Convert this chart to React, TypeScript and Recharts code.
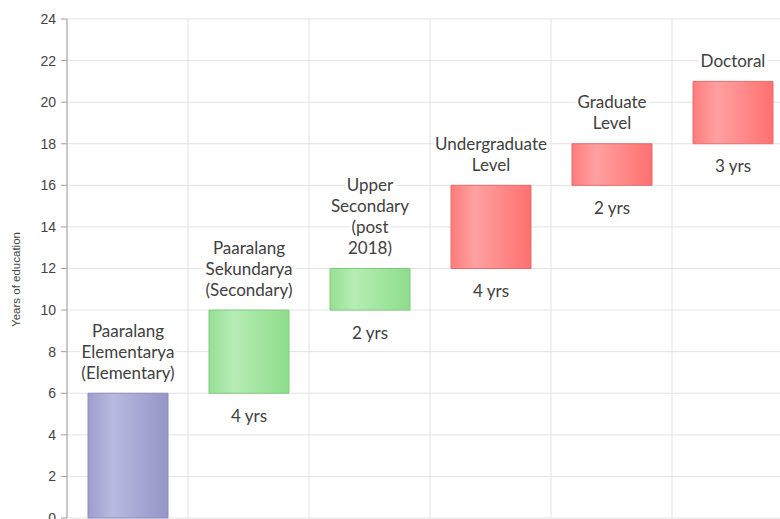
import { Bar, BarChart, CartesianGrid, Cell, LabelList, XAxis, YAxis } from "recharts";

const levels = [
  "Paaralang\nElementarya\n(Elementary)",
  "Paaralang\nSekundarya\n(Secondary)",
  "Upper\nSecondary\n(post\n2018)",
  "Undergraduate\nLevel",
  "Graduate\nLevel",
  "Doctoral",
];
const startYear = [0, 6, 10, 12, 16, 18];
const endYear = [6, 10, 12, 16, 18, 21];
const durationLabels = ["", "4 yrs", "2 yrs", "4 yrs", "2 yrs", "3 yrs"];
const stage = ["elementary", "secondary", "secondary", "tertiary", "tertiary", "tertiary"];
const yTicks = [0, 2, 4, 6, 8, 10, 12, 14, 16, 18, 20, 22, 24];

const data = levels.map((name, i) => ({
  name,
  range: [startYear[i], endYear[i]],
  duration: durationLabels[i],
  stage: stage[i],
}));

const gradients: Record<string, { stops: string[]; stroke: string }> = {
  elementary: { stops: ["#9c9dcc", "#b9badf", "#9595c7"], stroke: "#8c8dbf" },
  secondary: { stops: ["#96df94", "#b6edb4", "#8edd8b"], stroke: "#7fcc7e" },
  tertiary: { stops: ["#ff7c7c", "#ffa0a0", "#ff7070"], stroke: "#e86c6c" },
};

const labelFont = "Lato, 'Open Sans', sans-serif";

const TopLabel = (props: any) => {
  const { x, y, width, index } = props;
  const lines = levels[index].split("\n");
  const cx = x + width / 2;
  return (
    <g>
      {lines.map((line, i) => (
        <text
          key={i}
          x={cx}
          y={y - 21 - (lines.length - 1 - i) * 21}
          textAnchor="middle"
          dominantBaseline="central"
          fontFamily={labelFont}
          fontSize={17}
          fill="#404040"
          stroke="#fff"
          strokeWidth={6}
          paintOrder="stroke"
        >
          {line}
        </text>
      ))}
    </g>
  );
};

const BottomLabel = (props: any) => {
  const { x, y, width, height, index } = props;
  const text = durationLabels[index];
  if (!text) return null;
  return (
    <text
      x={x + width / 2}
      y={y + height + 22}
      textAnchor="middle"
      dominantBaseline="central"
      fontFamily={labelFont}
      fontSize={17}
      fill="#404040"
      stroke="#fff"
      strokeWidth={6}
      paintOrder="stroke"
    >
      {text}
    </text>
  );
};

const YLabel = (props: any) => {
  const { viewBox } = props;
  const x = viewBox.x + 16;
  const y = viewBox.y + viewBox.height / 2 + 11;
  return (
    <text
      transform={`translate(${x},${y}) rotate(-90)`}
      textAnchor="middle"
      dominantBaseline="central"
      fontFamily="'Liberation Sans', Arial, sans-serif"
      fontSize={11.5}
      fill="#444"
    >
      Years of education
    </text>
  );
};

const App = () => {
  return (
    <div style={{ position: "absolute", left: 0, top: 0, width: 780, height: 519, overflow: "hidden", background: "#fff" }}>
      <BarChart
        width={800}
        height={545}
        data={data}
        margin={{ top: 19, right: 7, bottom: 27, left: 0 }}
      >
        <defs>
          {Object.entries(gradients).map(([key, g]) => (
            <linearGradient key={key} id={`grad-${key}`} x1="0" y1="0" x2="1" y2="0">
              <stop offset="0%" stopColor={g.stops[0]} />
              <stop offset="30%" stopColor={g.stops[1]} />
              <stop offset="100%" stopColor={g.stops[2]} />
            </linearGradient>
          ))}
        </defs>
        <CartesianGrid
          stroke="#e3e3e3"
          verticalCoordinatesGenerator={({ offset }: any) =>
            levels.map((_, i) => offset.left + (i * offset.width) / levels.length).concat(offset.left + offset.width)
          }
        />
        <XAxis dataKey="name" hide />
        <YAxis
          width={67}
          domain={[0, 24]}
          ticks={yTicks}
          interval={0}
          tickSize={6}
          tickMargin={5}
          stroke="#a0a0a0"
          tick={{ fill: "#444", fontSize: 14, fontFamily: "'Liberation Sans', Arial, sans-serif" }}
          label={<YLabel />}
        />
        <Bar dataKey="range" barSize={80} isAnimationActive={false}>
          {data.map((d, i) => (
            <Cell key={i} fill={`url(#grad-${d.stage})`} stroke={gradients[d.stage].stroke} strokeWidth={1} />
          ))}
          <LabelList dataKey="name" content={<TopLabel />} />
          <LabelList dataKey="duration" content={<BottomLabel />} />
        </Bar>
      </BarChart>
    </div>
  );
};

export default App;
